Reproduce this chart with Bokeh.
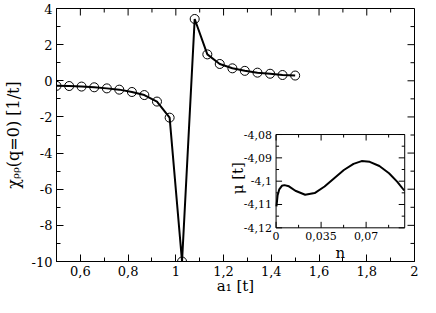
import math
from bokeh.plotting import figure
from bokeh.models import Range1d, LinearAxis, FixedTicker, CustomJSTickFormatter
from bokeh.core.properties import value
from bokeh.embed import file_html
from bokeh.resources import INLINE

# ---- main panel data: chi_rho_rho(q=0) vs a1 ----
a1 = [0.500, 0.553, 0.605, 0.658, 0.711, 0.763, 0.816, 0.868, 0.921, 0.974,
      1.026, 1.079, 1.132, 1.184, 1.237, 1.289, 1.342, 1.395, 1.447, 1.500]
chi = [-0.28, -0.29, -0.32, -0.36, -0.42, -0.49, -0.62, -0.79, -1.15, -2.04,
       -10.0, 3.42, 1.46, 0.93, 0.69, 0.55, 0.45, 0.39, 0.32, 0.29]

# ---- inset data: mu vs n ----
n_fill = [0.0003, 0.0012, 0.0025, 0.0045, 0.0065, 0.010, 0.015, 0.0226, 0.030,
          0.0377, 0.0452, 0.0527, 0.0602, 0.0665, 0.0728, 0.0803, 0.0878,
          0.0941, 0.0996]
mu = [-4.1108, -4.1060, -4.1035, -4.1020, -4.1017, -4.1022, -4.1041, -4.1058,
      -4.1051, -4.1023, -4.0987, -4.0952, -4.0926, -4.0914, -4.0917, -4.0935,
      -4.0966, -4.1002, -4.1040]

main_x_major = [0.6, 0.8, 1.0, 1.2, 1.4, 1.6, 1.8, 2.0]
main_x_minor = [0.5, 0.7, 0.9, 1.1, 1.3, 1.5, 1.7, 1.9]
main_y_major = [-10, -8, -6, -4, -2, 0, 2, 4]
main_y_minor = [-9, -7, -5, -3, -1, 1, 3]

inset_x_major = [0.0, 0.035, 0.07]
inset_x_minor = [0.0175, 0.0525, 0.0875]
inset_x_labels = ["0", "0,035", "0,07"]
inset_y_major = [-4.12, -4.11, -4.10, -4.09, -4.08]
inset_y_minor = [-4.115, -4.105, -4.095, -4.085]
inset_y_labels = ["-4,12", "-4,11", "-4,1", "-4,09", "-4,08"]

MAIN_X = (0.5, 2.0)
MAIN_Y = (-10.0, 4.0)
INSET_N = (0.0, 0.1)
INSET_MU = (-4.12, -4.08)
# where the inset frame sits, in main-panel data coordinates
INSET_BOX_X = (1.42, 1.959)
INSET_BOX_Y = (-8.136, -2.974)

FONT = "DejaVu Serif"


def extra_range(main, box, lim):
    s = (lim[1] - lim[0]) / (box[1] - box[0])
    return Range1d(lim[0] + (main[0] - box[0]) * s,
                   lim[0] + (main[1] - box[0]) * s)


fmt = CustomJSTickFormatter(
    code="return String(parseFloat(tick.toFixed(4))).replace('.', ',');")

p = figure(width=420, height=297, x_range=Range1d(*MAIN_X),
           y_range=Range1d(*MAIN_Y), output_backend="svg",
           toolbar_location=None, x_axis_location=None, y_axis_location=None,
           min_border_left=52, min_border_right=6, min_border_top=8,
           min_border_bottom=34)
p.grid.grid_line_color = None
p.outline_line_color = "black"
p.background_fill_color = "white"
p.border_fill_color = "white"


def add_axis(side, major, minor, label, standoff, label_standoff, label_size):
    ax = LinearAxis(ticker=FixedTicker(ticks=major, minor_ticks=minor),
                    formatter=fmt)
    ax.major_tick_in = 7
    ax.major_tick_out = 0
    ax.minor_tick_in = 4
    ax.minor_tick_out = 0
    ax.axis_line_color = "black"
    ax.major_tick_line_color = "black"
    ax.minor_tick_line_color = "black"
    ax.major_label_text_font = FONT
    ax.major_label_text_font_size = "13px"
    ax.major_label_text_color = "black"
    ax.major_label_standoff = standoff
    ax.axis_label = label
    ax.axis_label_text_font = FONT
    ax.axis_label_text_font_style = "normal"
    ax.axis_label_text_font_size = label_size
    ax.axis_label_text_color = "black"
    ax.axis_label_standoff = label_standoff
    p.add_layout(ax, side)


add_axis("below", main_x_major, main_x_minor, "a\u2081 [t]", 4, -2, "15px")
add_axis("left", main_y_major, main_y_minor, "\u03c7\u1d68\u1d68(q=0) [1/t]", 4, 6, "16px")

# ticks on the top and right edges of the main frame
tick_kw = dict(length_units="screen", line_color="black", line_width=1)
p.ray(x=main_x_major, y=[MAIN_Y[1]] * len(main_x_major), length=7,
      angle=-math.pi / 2, **tick_kw)
p.ray(x=main_x_minor, y=[MAIN_Y[1]] * len(main_x_minor), length=4,
      angle=-math.pi / 2, **tick_kw)
p.ray(x=[MAIN_X[1]] * len(main_y_major), y=main_y_major, length=7,
      angle=math.pi, **tick_kw)
p.ray(x=[MAIN_X[1]] * len(main_y_minor), y=main_y_minor, length=4,
      angle=math.pi, **tick_kw)

p.line(a1, chi, line_width=2, line_color="black")
p.scatter(a1, chi, marker="circle", size=9, fill_color=None,
          line_color="black", line_width=1)

# ---------------- inset (own scales) ----------------
p.extra_x_ranges = {"n": extra_range(MAIN_X, INSET_BOX_X, INSET_N)}
p.extra_y_ranges = {"mu": extra_range(MAIN_Y, INSET_BOX_Y, INSET_MU)}
ik = dict(x_range_name="n", y_range_name="mu")

p.quad(left=INSET_N[0], right=INSET_N[1], bottom=INSET_MU[0], top=INSET_MU[1],
       fill_color="white", line_color="black", line_width=1, **ik)

p.ray(x=inset_x_major, y=[INSET_MU[0]] * 3, length=6, angle=math.pi / 2, **tick_kw, **ik)
p.ray(x=inset_x_minor, y=[INSET_MU[0]] * 3, length=3, angle=math.pi / 2, **tick_kw, **ik)
p.ray(x=inset_x_major, y=[INSET_MU[1]] * 3, length=6, angle=-math.pi / 2, **tick_kw, **ik)
p.ray(x=inset_x_minor, y=[INSET_MU[1]] * 3, length=3, angle=-math.pi / 2, **tick_kw, **ik)
p.ray(x=[INSET_N[0]] * 5, y=inset_y_major, length=6, angle=0, **tick_kw, **ik)
p.ray(x=[INSET_N[0]] * 4, y=inset_y_minor, length=3, angle=0, **tick_kw, **ik)
p.ray(x=[INSET_N[1]] * 5, y=inset_y_major, length=6, angle=math.pi, **tick_kw, **ik)
p.ray(x=[INSET_N[1]] * 4, y=inset_y_minor, length=3, angle=math.pi, **tick_kw, **ik)

p.line(n_fill, mu, line_width=2, line_color="black", **ik)

txt = dict(text_font=value(FONT), text_color="black", **ik)
p.text(x=inset_x_major, y=[INSET_MU[0]] * 3, text=inset_x_labels,
       text_align="center", text_baseline="top", y_offset=4,
       text_font_size="11px", **txt)
p.text(x=[INSET_N[0]] * 5, y=inset_y_major, text=inset_y_labels,
       text_align="right", text_baseline="middle", x_offset=-4,
       text_font_size="11px", **txt)
p.text(x=[(INSET_N[0] + INSET_N[1]) / 2], y=[INSET_MU[0]], text=["n"],
       text_align="center", text_baseline="alphabetic", y_offset=25,
       text_font_size="15px", **txt)
p.text(x=[INSET_N[0]], y=[(INSET_MU[0] + INSET_MU[1]) / 2], text=["\u03bc [t]"],
       text_align="center", text_baseline="alphabetic", x_offset=-38,
       y_offset=-3, angle=math.pi / 2, text_font_size="15px", **txt)

open("out.html", "w").write(file_html(p, INLINE))
